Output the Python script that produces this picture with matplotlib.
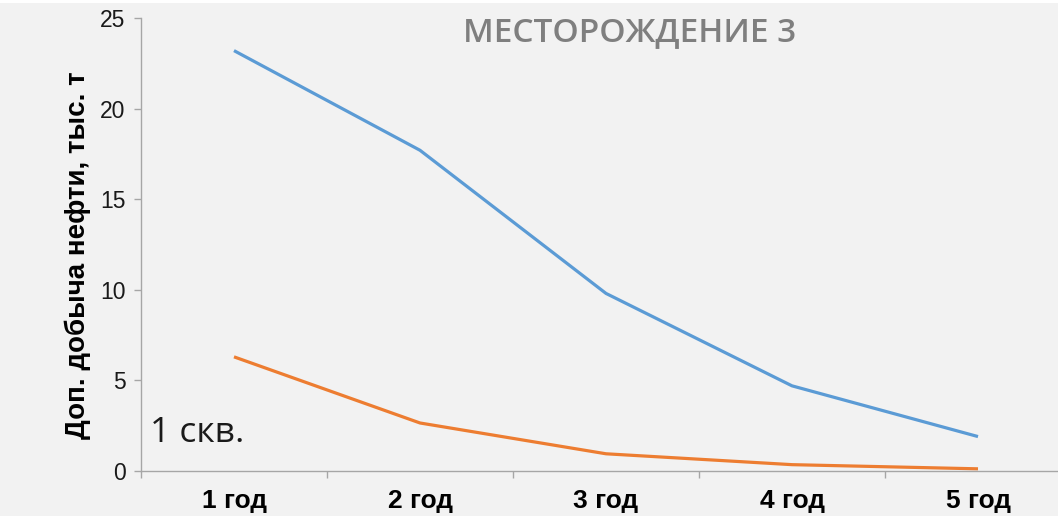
import matplotlib
matplotlib.use("Agg")
import matplotlib.pyplot as plt
from matplotlib.patches import Rectangle
from matplotlib.ticker import FixedLocator

# Data
years = ["1 год", "2 год", "3 год", "4 год", "5 год"]
series_a = [23.2, 17.7, 9.8, 4.7, 1.9]
series_b = [6.3, 2.65, 0.95, 0.35, 0.12]

title = "МЕСТОРОЖДЕНИЕ 3"
y_label = "Доп. добыча нефти, тыс. т"
note = "1 скв."

W, H = 1058, 516
fig = plt.figure(figsize=(W / 100, H / 100), dpi=100, facecolor="#f2f2f2")
# thin white band along the top edge
fig.patches.append(Rectangle((0, 1 - 3 / H), 1, 3 / H, transform=fig.transFigure,
                             facecolor="white", edgecolor="none", zorder=0))

left, right, bottom, top = 141, 1071, 471, 18
ax = fig.add_axes([left / W, (H - bottom) / H, (right - left) / W, (bottom - top) / H])
ax.set_facecolor("#f2f2f2")

x = list(range(1, len(years) + 1))
ax.plot(x, series_a, color="#5b9bd5", lw=2.3, solid_capstyle="butt", solid_joinstyle="round")
ax.plot(x, series_b, color="#ed7d31", lw=2.3, solid_capstyle="butt", solid_joinstyle="round")

ax.set_xlim(0.5, len(years) + 0.5)
ax.set_ylim(0, 25)
ax.set_yticks([0, 5, 10, 15, 20, 25])
ax.tick_params(axis="y", length=5, width=1, color="#a6a6a6", labelsize=16.5, pad=6,
               labelcolor="#1a1a1a")
ax.set_xticks(x)
ax.set_xticklabels(years, fontweight="bold", fontsize=19, family="Liberation Sans")
ax.tick_params(axis="x", which="major", length=0, pad=13)
ax.xaxis.set_minor_locator(FixedLocator([0.5 + i for i in range(len(years) + 1)]))
ax.tick_params(axis="x", which="minor", length=5, width=1, color="#a6a6a6")
for lbl in ax.get_yticklabels():
    lbl.set_family("Liberation Sans")

for s in ("top", "right"):
    ax.spines[s].set_visible(False)
for s in ("left", "bottom"):
    ax.spines[s].set_color("#a6a6a6")
    ax.spines[s].set_linewidth(1)

fig.text(78 / W, 1 - 255 / H, y_label, rotation=90, ha="center", va="center",
         fontsize=20, fontweight="bold", family="Liberation Sans", color="black")
fig.text(630 / W, 1 - 33 / H, title, ha="center", va="center", fontsize=24,
         fontweight="semibold", family="Open Sans", color="#7f7f7f")
fig.text(150 / W, 1 - 433 / H, note, ha="left", va="center", fontsize=25.5,
         family="Open Sans", color="#1a1a1a")

fig.savefig("out.png", dpi=100, facecolor=fig.get_facecolor())
